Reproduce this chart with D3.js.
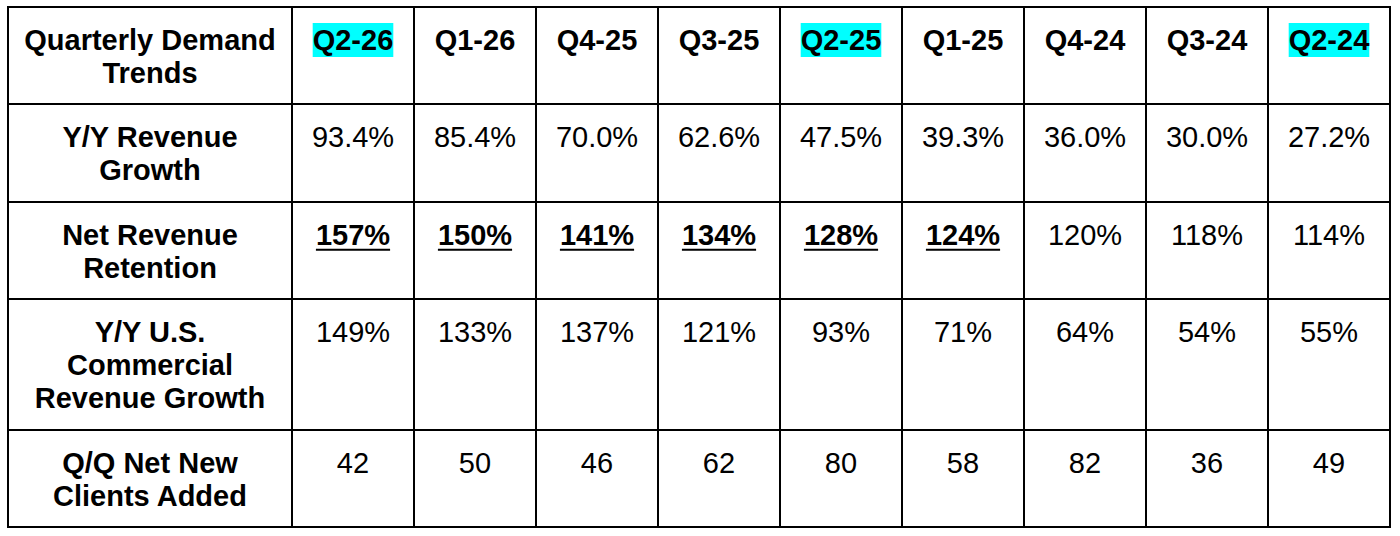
<!DOCTYPE html>
<html>
<head>
<meta charset="utf-8">
<script src="https://d3js.org/d3.v7.min.js"></script>
<style>
  body { margin: 0; background: #fff; }
  svg { display: block; font-family: "Liberation Sans", Arial, sans-serif; }
</style>
</head>
<body>
<svg width="1400" height="536"></svg>
<script>
var quarters = ["Q2-26", "Q1-26", "Q4-25", "Q3-25", "Q2-25", "Q1-25", "Q4-24", "Q3-24", "Q2-24"];
var highlightedQuarters = ["Q2-26", "Q2-25", "Q2-24"];
var revenueGrowth = ["93.4%", "85.4%", "70.0%", "62.6%", "47.5%", "39.3%", "36.0%", "30.0%", "27.2%"];
var netRevenueRetention = ["157%", "150%", "141%", "134%", "128%", "124%", "120%", "118%", "114%"];
var underlinedNrr = ["Q2-26", "Q1-26", "Q4-25", "Q3-25", "Q2-25", "Q1-25"];
var usCommercialGrowth = ["149%", "133%", "137%", "121%", "93%", "71%", "64%", "54%", "55%"];
var netNewClients = ["42", "50", "46", "62", "80", "58", "82", "36", "49"];

var headerLabel = ["Quarterly Demand", "Trends"];
var rowLabels = [
  ["Y/Y Revenue", "Growth"],
  ["Net Revenue", "Retention"],
  ["Y/Y U.S.", "Commercial", "Revenue Growth"],
  ["Q/Q Net New", "Clients Added"]
];
var rowValues = [revenueGrowth, netRevenueRetention, usCommercialGrowth, netNewClients];

var svg = d3.select("svg");
// table frame (don't use "top", it clashes with window.top)
var tLeft = 8, tRight = 1390, tTop = 7, tBottom = 527, labelRight = 292;
var fontSize = 29, lineH = 33, padUnits = 0.94;

// rows: header + metric rows, height follows the number of text lines
var rows = [{label: headerLabel, values: quarters, header: true}].concat(
  rowLabels.map(function(l, i) { return {label: l, values: rowValues[i], header: false, idx: i}; })
);
var cum = 0;
rows.forEach(function(r) {
  r.u0 = cum;
  cum += r.label.length + padUnits;
  r.u1 = cum;
});
var y = d3.scaleLinear().domain([0, cum]).range([tTop, tBottom]);
var x = d3.scaleBand().domain(quarters).range([labelRight, tRight]);
var labelX = (tLeft + labelRight) / 2;

var g = svg.append("g");

// highlight boxes and text
rows.forEach(function(r) {
  var base = y(r.u0) + 43;
  var lab = g.append("text")
    .attr("x", labelX)
    .attr("y", base)
    .attr("text-anchor", "middle")
    .attr("font-size", fontSize)
    .attr("font-weight", "bold");
  r.label.forEach(function(line, i) {
    lab.append("tspan").attr("x", labelX).attr("y", base + i * lineH).text(line);
  });

  r.values.forEach(function(v, j) {
    var q = quarters[j];
    var cx = x(q) + x.bandwidth() / 2;
    var under = r.idx === 1 && underlinedNrr.indexOf(q) >= 0;
    var t = g.append("text")
      .attr("x", cx)
      .attr("y", base)
      .attr("text-anchor", "middle")
      .attr("font-size", fontSize)
      .attr("font-weight", r.header || under ? "bold" : "normal")
      .text(v);
    var w = t.node().getComputedTextLength();
    if (r.header && highlightedQuarters.indexOf(q) >= 0) {
      g.insert("rect", "text")
        .attr("x", cx - w / 2)
        .attr("y", base - 27)
        .attr("width", w)
        .attr("height", 34)
        .attr("fill", "#00ffff");
    }
    if (under) {
      g.append("line")
        .attr("x1", cx - w / 2).attr("x2", cx + w / 2)
        .attr("y1", base + 5).attr("y2", base + 5)
        .attr("stroke", "#000").attr("stroke-width", 2);
    }
  });
});

// grid lines
var grid = svg.append("g").attr("stroke", "#000").attr("stroke-width", 2).attr("shape-rendering", "crispEdges");
var rowEdges = [0].concat(rows.map(function(r) { return r.u1; }));
grid.selectAll(".h").data(rowEdges).enter().append("line")
  .attr("x1", tLeft - 1).attr("x2", tRight + 1)
  .attr("y1", function(d) { return Math.round(y(d)); })
  .attr("y2", function(d) { return Math.round(y(d)); });
var colEdges = [tLeft, labelRight].concat(quarters.map(function(q) { return x(q) + x.bandwidth(); }));
grid.selectAll(".v").data(colEdges).enter().append("line")
  .attr("x1", function(d) { return Math.round(d); })
  .attr("x2", function(d) { return Math.round(d); })
  .attr("y1", tTop - 1).attr("y2", tBottom + 1);
</script>
</body>
</html>
